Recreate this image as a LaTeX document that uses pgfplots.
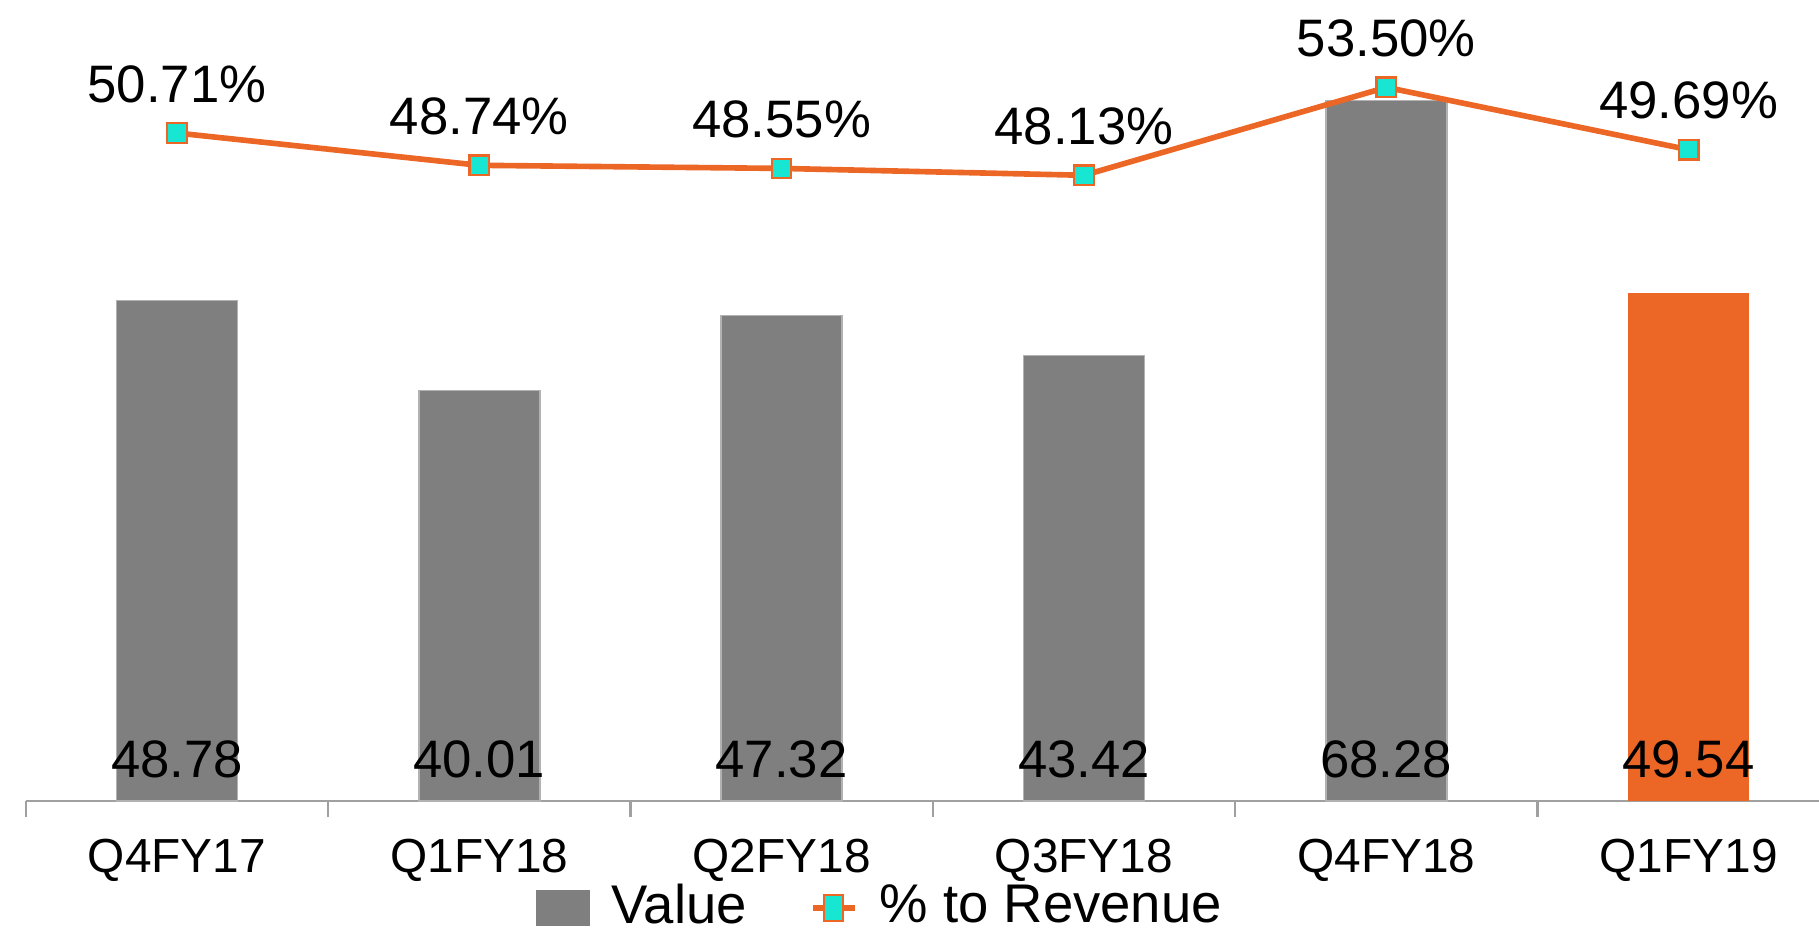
\documentclass[border=0pt]{standalone}
\usepackage{fontspec}
\setmainfont{Liberation Sans}
\usepackage{pgfplots}
\usepackage{pgfplotstable}
\pgfplotsset{compat=1.18}
\definecolor{barGray}{HTML}{7F7F7F}
\definecolor{accent}{HTML}{EC6726}
\definecolor{markTeal}{HTML}{17E6D3}
\definecolor{axisGray}{HTML}{A0A0A0}

\pgfplotstableread{
x val pct
0 48.78 50.71
1 40.01 48.74
2 47.32 48.55
3 43.42 48.13
4 68.28 53.50
5 49.54 49.69
}\quarters

\pgfplotsset{
  base/.style={
    scale only axis, width=18.14cm, height=7.81cm,
    at={(0.258cm,1.36cm)}, anchor=south west,
    xmin=-0.5, xmax=5.5, clip=false,
    /pgf/number format/assume math mode=true,
    font=\fontsize{15}{18}\selectfont,
  },
}

\begin{document}
\fontsize{15}{18}\selectfont
\begin{tikzpicture}
\useasboundingbox (0,0) rectangle (18.19,9.37);
% bars on the left scale
\begin{axis}[base,
  ymin=0, ymax=76.1,
  axis x line*=bottom, axis y line=none,
  x axis line style={draw=axisGray, line width=0.6pt, -},
  xtick={0,...,5},
  xticklabels={Q4FY17,Q1FY18,Q2FY18,Q3FY18,Q4FY18,Q1FY19},
  major tick length=0pt,
  minor xtick={-0.5,0.5,...,5.5},
  minor x tick style={draw=axisGray, line width=0.6pt},
  minor tick length=0.16cm, tick align=outside,
  xticklabel style={anchor=base, yshift=-0.715cm, font=\fontsize{13.6}{16}\selectfont},
]
\addplot[ybar, bar width=1.21cm, bar shift=0pt, fill=barGray, draw=barGray!60!white, line width=0.4pt,
  restrict x to domain=0:4] table[x=x, y=val]{\quarters};
\addplot[ybar, bar width=1.21cm, bar shift=0pt, fill=accent, draw=none,
  restrict x to domain=5:5] table[x=x, y=val]{\quarters};
% value labels sit at the foot of each bar
\addplot[draw=none, mark=none, point meta=explicit,
  nodes near coords={\pgfmathprintnumber[fixed,fixed zerofill,precision=2]{\pgfplotspointmeta}},
  nodes near coords style={anchor=base, yshift=0.235cm, text=black}]
  table[x=x, y expr=0, meta=val]{\quarters};
\end{axis}
% percentage line on its own scale
\begin{axis}[base,
  ymin=9.93, ymax=57.61,
  hide x axis, hide y axis,
  legend columns=2,
  legend style={draw=none, fill=none, inner sep=0pt, at={(0.281,-0.137)}, anchor=west,
    font=\fontsize{15.5}{18}\selectfont,
    /tikz/every odd column/.append style={column sep=0.15cm},
    /tikz/every even column/.append style={column sep=0.56cm}},
]
\addlegendimage{legend image code/.code={\fill[barGray] (0cm,-0.17cm) rectangle (0.52cm,0.17cm);}}
\addlegendentry{Value}
\addplot[accent, line width=1.6pt, mark=square*, mark size=0.098cm,
  mark options={fill=markTeal, draw=accent, line width=0.6pt},
  point meta=explicit,
  nodes near coords={\pgfmathprintnumber[fixed,fixed zerofill,precision=2]{\pgfplotspointmeta}\%},
  nodes near coords style={anchor=base, yshift=0.31cm, text=black},
  legend image code/.code={
    \draw[accent, line width=1.6pt] (0cm,0cm) -- (0.42cm,0cm);
    \draw[fill=markTeal, draw=accent, line width=0.6pt] (0.115cm,-0.13cm) rectangle (0.305cm,0.13cm);
  }]
  table[x=x, y=pct, meta=pct]{\quarters};
\addlegendentry{\% to Revenue}
\end{axis}
\end{tikzpicture}
\end{document}
